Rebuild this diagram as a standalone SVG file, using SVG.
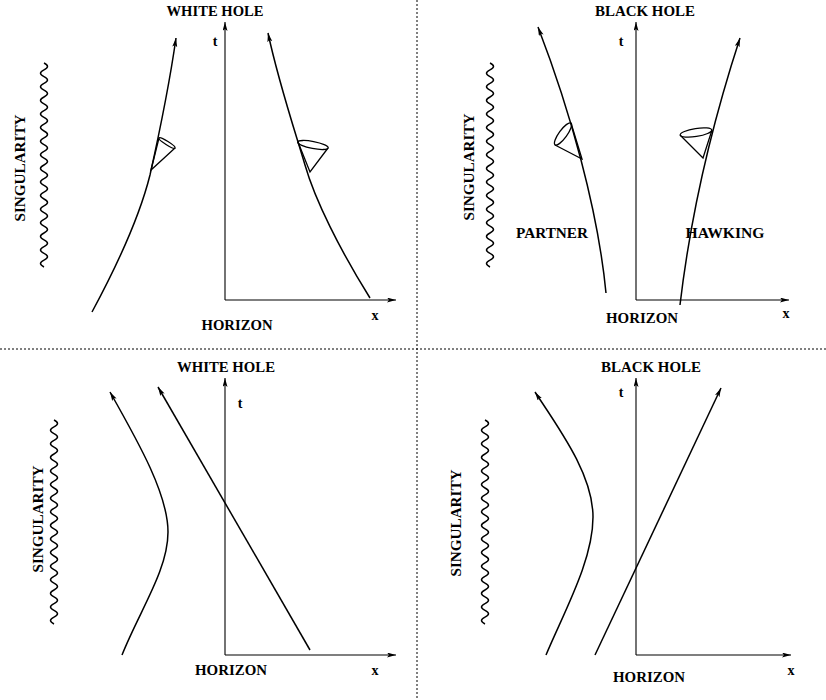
<svg xmlns="http://www.w3.org/2000/svg" width="826" height="700" viewBox="0 0 826 700">
<defs>
<marker id="ah" markerUnits="userSpaceOnUse" markerWidth="10" markerHeight="6" refX="9" refY="2.5" orient="auto">
<path d="M0,0 L9,2.5 L0,5 L2,2.5 z" fill="#000"/>
</marker>
<path id="wave" d="M0,0 q7,3.4 0,6.8 q-7,3.4 0,6.8 q7,3.4 0,6.8 q-7,3.4 0,6.8 q7,3.4 0,6.8 q-7,3.4 0,6.8 q7,3.4 0,6.8 q-7,3.4 0,6.8 q7,3.4 0,6.8 q-7,3.4 0,6.8 q7,3.4 0,6.8 q-7,3.4 0,6.8 q7,3.4 0,6.8 q-7,3.4 0,6.8 q7,3.4 0,6.8 q-7,3.4 0,6.8 q7,3.4 0,6.8 q-7,3.4 0,6.8 q7,3.4 0,6.8 q-7,3.4 0,6.8 q7,3.4 0,6.8 q-7,3.4 0,6.8 q7,3.4 0,6.8 q-7,3.4 0,6.8 q7,3.4 0,6.8 q-7,3.4 0,6.8 q7,3.4 0,6.8 q-7,3.4 0,6.8 q7,3.4 0,6.8 q-7,3.4 0,6.8"/>
</defs>
<style>
.lbl{font-family:"Liberation Serif","Times New Roman",serif;font-weight:bold;font-size:14px;fill:#000}
.ax{font-family:"Liberation Serif","Times New Roman",serif;font-weight:bold;font-size:14px;fill:#000}
.axis{stroke:#000;stroke-width:1.1;fill:none}
.wl{stroke:#000;stroke-width:1.5;fill:none}
.sing{stroke:#000;stroke-width:1.5;fill:none}
.cone{stroke:#000;stroke-width:1.3;fill:none}
.sep{stroke:#000;stroke-width:1;stroke-dasharray:2,2;fill:none}
</style>
<rect width="826" height="700" fill="#fff"/>

<g id="separators">
<line class="sep" x1="0" y1="349" x2="826" y2="349"/>
<line class="sep" x1="417" y1="0" x2="417" y2="700"/>
</g>

<g id="panel-white-hole-top">
<text class="lbl" x="215" y="16" text-anchor="middle" textLength="97" lengthAdjust="spacingAndGlyphs">WHITE HOLE</text>
<text class="lbl" transform="translate(25,168) rotate(-90)" text-anchor="middle" textLength="107" lengthAdjust="spacingAndGlyphs">SINGULARITY</text>
<text class="lbl" x="237" y="330" text-anchor="middle" textLength="71" lengthAdjust="spacingAndGlyphs">HORIZON</text>
<text class="ax" x="215" y="46" text-anchor="middle">t</text>
<text class="ax" x="375" y="320" text-anchor="middle">x</text>
<use href="#wave" transform="translate(44,63)" class="sing"/>
</g>

<g id="panel-black-hole-top">
<text class="lbl" x="645" y="16" text-anchor="middle" textLength="100" lengthAdjust="spacingAndGlyphs">BLACK HOLE</text>
<text class="lbl" transform="translate(474,167) rotate(-90)" text-anchor="middle" textLength="107" lengthAdjust="spacingAndGlyphs">SINGULARITY</text>
<text class="lbl" x="642" y="323" text-anchor="middle" textLength="72" lengthAdjust="spacingAndGlyphs">HORIZON</text>
<text class="lbl" x="552" y="238" text-anchor="middle" textLength="72" lengthAdjust="spacingAndGlyphs">PARTNER</text>
<text class="lbl" x="725" y="238" text-anchor="middle" textLength="79" lengthAdjust="spacingAndGlyphs">HAWKING</text>
<text class="ax" x="621" y="46" text-anchor="middle">t</text>
<text class="ax" x="786" y="318" text-anchor="middle">x</text>
<use href="#wave" transform="translate(490,63)" class="sing"/>
</g>

<g id="panel-white-hole-bottom">
<text class="lbl" x="226" y="372" text-anchor="middle" textLength="98" lengthAdjust="spacingAndGlyphs">WHITE HOLE</text>
<text class="lbl" transform="translate(43,519) rotate(-90)" text-anchor="middle" textLength="107" lengthAdjust="spacingAndGlyphs">SINGULARITY</text>
<text class="lbl" x="231" y="675" text-anchor="middle" textLength="72" lengthAdjust="spacingAndGlyphs">HORIZON</text>
<text class="ax" x="240" y="408" text-anchor="middle">t</text>
<text class="ax" x="375" y="675" text-anchor="middle">x</text>
<use href="#wave" transform="translate(54,420)" class="sing"/>
</g>

<g id="panel-black-hole-bottom">
<text class="lbl" x="651" y="372" text-anchor="middle" textLength="100" lengthAdjust="spacingAndGlyphs">BLACK HOLE</text>
<text class="lbl" transform="translate(461,523) rotate(-90)" text-anchor="middle" textLength="107" lengthAdjust="spacingAndGlyphs">SINGULARITY</text>
<text class="lbl" x="649" y="682" text-anchor="middle" textLength="72" lengthAdjust="spacingAndGlyphs">HORIZON</text>
<text class="ax" x="621" y="397" text-anchor="middle">t</text>
<text class="ax" x="791" y="675" text-anchor="middle">x</text>
<use href="#wave" transform="translate(485,420)" class="sing"/>
</g>

<g id="connectors">
<!-- axes -->
<path class="axis" d="M225,300 L225,22" marker-end="url(#ah)"/>
<path class="axis" d="M225,300 L396,300" marker-end="url(#ah)"/>
<path class="axis" d="M636,300 L636,22" marker-end="url(#ah)"/>
<path class="axis" d="M636,300 L789,300" marker-end="url(#ah)"/>
<path class="axis" d="M225,655 L225,378" marker-end="url(#ah)"/>
<path class="axis" d="M225,655 L396,655" marker-end="url(#ah)"/>
<path class="axis" d="M636,655 L636,378" marker-end="url(#ah)"/>
<path class="axis" d="M636,655 L791,655" marker-end="url(#ah)"/>

<!-- top-left worldlines -->
<path class="wl" d="M92,312 C120,260 140,215 150,175 C160,130 170,80 176,38" marker-end="url(#ah)"/>
<path class="wl" d="M370,298 C340,250 315,200 305,165 C293,125 278,80 268,33" marker-end="url(#ah)"/>
<!-- top-left light cones -->
<path class="cone" d="M159,138 L151,170 L175,148"/>
<ellipse class="cone" cx="167" cy="143" rx="9.5" ry="1.8" transform="rotate(32 167 143)"/>
<path class="cone" d="M298,142 L310,172 L328,148"/>
<ellipse class="cone" cx="313" cy="145" rx="15.5" ry="3.5" transform="rotate(11 313 145)"/>

<!-- top-right worldlines -->
<path class="wl" d="M606,293 C598,210 570,110 538,27" marker-end="url(#ah)"/>
<path class="wl" d="M680,305 C690,220 710,130 740,38" marker-end="url(#ah)"/>
<!-- top-right light cones -->
<path class="cone" d="M571,123 L582,159 L555,145"/>
<ellipse class="cone" cx="563" cy="134" rx="13.5" ry="4" transform="rotate(-54 563 134)"/>
<path class="cone" d="M712,130 L703,158 L680,135"/>
<ellipse class="cone" cx="696" cy="132.5" rx="16" ry="4" transform="rotate(-9 696 132.5)"/>

<!-- bottom-left worldlines -->
<path class="wl" d="M122,655 C140,610 168,570 168,532 C168,495 140,445 110,392" marker-end="url(#ah)"/>
<path class="wl" d="M310,650 L158,387" marker-end="url(#ah)"/>

<!-- bottom-right worldlines -->
<path class="wl" d="M546,655 C565,610 593,560 593,517 C593,475 560,430 535,392" marker-end="url(#ah)"/>
<path class="wl" d="M595,655 L721,388" marker-end="url(#ah)"/>
</g>
</svg>
